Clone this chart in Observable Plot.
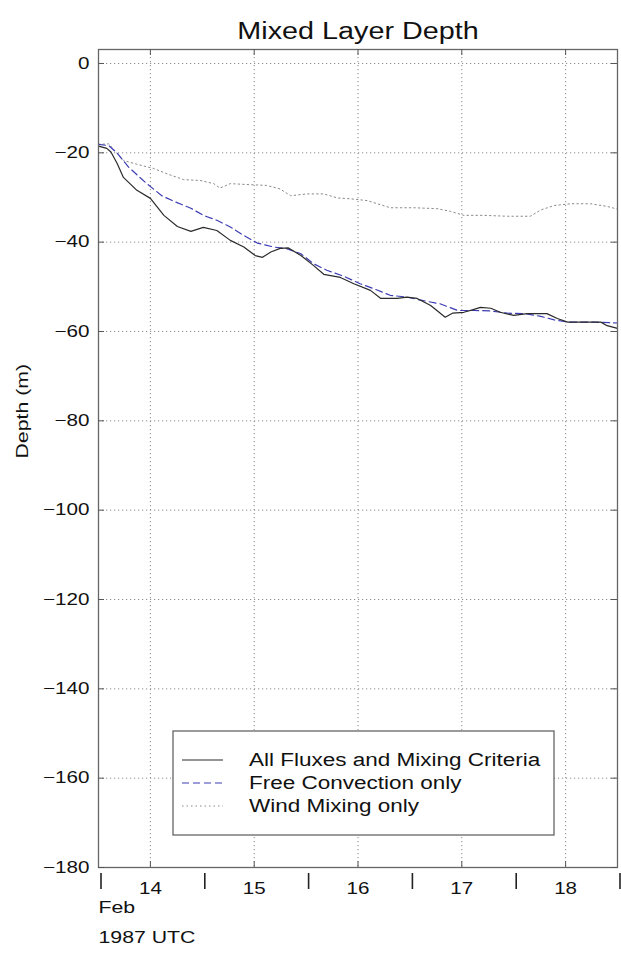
<!DOCTYPE html>
<html>
<head>
<meta charset="utf-8">
<script src="https://cdn.jsdelivr.net/npm/d3@7"></script>
<script src="https://cdn.jsdelivr.net/npm/@observablehq/plot@0.6"></script>
<style>
  body { margin: 0; background: #fff; }
  svg { display: block; }
</style>
</head>
<body>
<div id="chart"></div>
<script>
// Mixed layer depth (m) against time (days of February 1987, UTC)
const seriesNames = ["All Fluxes and Mixing Criteria", "Free Convection only", "Wind Mixing only"];

// All fluxes and mixing criteria
const allT = [13.50, 13.58, 13.62, 13.68, 13.74, 13.87, 14.00, 14.13, 14.26, 14.39, 14.51, 14.64, 14.77, 14.90,
  15.01, 15.08, 15.16, 15.25, 15.33, 15.45, 15.57, 15.67, 15.83, 15.96, 16.12, 16.22, 16.38, 16.47, 16.57,
  16.70, 16.76, 16.84, 16.91, 17.02, 17.11, 17.18, 17.28, 17.37, 17.50, 17.63, 17.82, 17.92, 18.02, 18.34, 18.40, 18.50];
const allDepth = [-18.5, -19.0, -19.8, -22.4, -25.5, -28.4, -30.2, -34.0, -36.5, -37.6, -36.7, -37.4, -39.6, -41.1,
  -43.0, -43.4, -42.2, -41.4, -41.3, -43.0, -45.2, -47.2, -47.9, -49.3, -50.8, -52.6, -52.6, -52.3, -52.6,
  -54.2, -55.3, -56.8, -55.9, -55.7, -55.1, -54.6, -54.8, -55.7, -56.4, -56.0, -56.0, -57.1, -57.9, -57.9, -58.7, -59.3];

// Free convection only
const freeT = [13.50, 13.60, 13.68, 13.79, 13.95, 14.11, 14.24, 14.39, 14.51, 14.64, 14.77, 14.90, 15.03, 15.19,
  15.32, 15.45, 15.57, 15.70, 15.86, 16.02, 16.15, 16.31, 16.47, 16.63, 16.79, 16.96, 17.12, 17.28, 17.44,
  17.60, 17.76, 17.89, 18.02, 18.27, 18.50];
const freeDepth = [-18.1, -18.4, -20.1, -23.2, -26.6, -29.6, -31.0, -32.4, -34.0, -35.1, -36.6, -38.5, -40.2, -41.1,
  -41.5, -42.6, -44.8, -46.3, -47.6, -49.3, -50.4, -51.9, -52.3, -53.1, -53.8, -55.3, -55.3, -55.4, -55.9,
  -56.0, -56.6, -57.4, -57.9, -57.9, -58.1];

// Wind mixing only
const windT = [13.50, 13.60, 13.74, 13.86, 14.03, 14.16, 14.32, 14.48, 14.61, 14.67, 14.77, 14.93, 15.12, 15.25,
  15.35, 15.51, 15.67, 15.80, 15.93, 16.09, 16.31, 16.54, 16.76, 16.89, 17.02, 17.21, 17.44, 17.66, 17.76,
  17.89, 18.05, 18.24, 18.40, 18.50];
const windDepth = [-18.1, -18.0, -21.7, -22.5, -23.5, -24.7, -26.0, -26.2, -26.9, -27.9, -26.9, -27.1, -27.3, -28.1,
  -29.6, -29.2, -29.2, -30.1, -30.3, -30.7, -32.3, -32.3, -32.5, -33.1, -34.0, -34.0, -34.2, -34.2, -32.8,
  -31.8, -31.4, -31.4, -32.0, -32.6];

// Axis ticks
const yTicks = [0, -20, -40, -60, -80, -100, -120, -140, -160, -180];
const dayTicks = [14, 15, 16, 17, 18];
const halfDayMarks = [13.5, 14.5, 15.5, 16.5, 17.5, 18.5];
const titleText = "Mixed Layer Depth";
const yLabel = "Depth (m)";
const monthLabel = "Feb";
const yearLabel = "1987 UTC";

const rows = (ts, ds) => ts.map((t, i) => ({t, d: ds[i]}));
const allRows = rows(allT, allDepth);
const freeRows = rows(freeT, freeDepth);
const windRows = rows(windT, windDepth);

const FONT = "'Liberation Sans', Arial, Helvetica, sans-serif";
const W = 621, H = 955;
const mt = 49, mb = 88, ml = 98, mr = 4;
const fw = W - ml - mr, fh = H - mt - mb;

const styles = {
  all: {stroke: "#2b2b2b", strokeWidth: 1.2},
  free: {stroke: "#3d3db4", strokeWidth: 1.2, strokeDasharray: "7,4"},
  wind: {stroke: "#8a8a8a", strokeWidth: 1, strokeDasharray: "1.5,3"}
};
const gridStyle = {stroke: "#8c8c8c", strokeOpacity: 1, strokeWidth: 1, strokeDasharray: "1.2,2.8"};

const chart = Plot.plot({
  width: W,
  height: H,
  marginTop: mt,
  marginBottom: mb,
  marginLeft: ml,
  marginRight: mr,
  style: {fontFamily: FONT, fontSize: "16.5px", color: "#111", background: "#fff"},
  x: {domain: [13.5, 18.5]},
  y: {domain: [-180, 3.13]},
  marks: [
    Plot.gridY(yTicks, gridStyle),
    Plot.gridX(dayTicks, gridStyle),
    Plot.line(windRows, {x: "t", y: "d", ...styles.wind}),
    Plot.line(freeRows, {x: "t", y: "d", ...styles.free}),
    Plot.line(allRows, {x: "t", y: "d", ...styles.all}),
    Plot.frame({stroke: "#666", strokeWidth: 1.3}),
    // inward ticks on all four sides
    Plot.tickY(yTicks, {y: d => d, insetRight: fw - 6, stroke: "#555"}),
    Plot.tickY(yTicks, {y: d => d, insetLeft: fw - 6, stroke: "#555"}),
    Plot.tickX(dayTicks, {x: d => d, insetTop: fh - 6, stroke: "#555"}),
    Plot.tickX(dayTicks, {x: d => d, insetBottom: fh - 6, stroke: "#555"}),
    // half-day markers hanging below the time axis
    Plot.tickX(halfDayMarks, {x: d => d, insetTop: fh + 6, insetBottom: -22, dx: 2.5, stroke: "#222", strokeWidth: 1.6}),
    Plot.axisY(yTicks, {tickSize: 0, tickPadding: 9, label: null, fontSize: 16.5, fill: "#111"}),
    Plot.axisX(dayTicks, {tickSize: 0, tickPadding: 15, label: null, fontSize: 16.5, fill: "#111", tickFormat: d => String(d)}),
    Plot.text([titleText], {frameAnchor: "top", dy: -27, fontSize: 23, fill: "#111"}),
    Plot.text([yLabel], {frameAnchor: "left", dx: -76, rotate: -90, fontSize: 17, fill: "#111"}),
    Plot.text([monthLabel], {frameAnchor: "bottom-left", dy: 45, textAnchor: "start", fontSize: 17, fill: "#111"}),
    Plot.text([yearLabel], {frameAnchor: "bottom-left", dy: 75, textAnchor: "start", fontSize: 17, fill: "#111"})
  ]
});

document.getElementById("chart").appendChild(chart);

// Legend box inside the frame, lower part
const svg = d3.select(chart);
const lg = svg.append("g")
  .attr("font-family", FONT).attr("font-size", 18).attr("fill", "#111")
  .attr("text-anchor", "start");
const box = {x: ml + 75, y: mt + 682, w: fw - 75 - 63, h: 104};
lg.append("rect")
  .attr("x", box.x).attr("y", box.y).attr("width", box.w).attr("height", box.h)
  .attr("fill", "#fff").attr("stroke", "#666").attr("stroke-width", 1.3);
const legendStyles = [styles.all, styles.free, styles.wind];
seriesNames.forEach((name, i) => {
  const cy = box.y + 29 + i * 23;
  const s = legendStyles[i];
  lg.append("line")
    .attr("x1", box.x + 9).attr("x2", box.x + 50).attr("y1", cy).attr("y2", cy)
    .attr("stroke", s.stroke).attr("stroke-width", s.strokeWidth)
    .attr("stroke-dasharray", s.strokeDasharray || null);
  lg.append("text")
    .attr("x", box.x + 76).attr("y", cy + 6)
    .attr("text-anchor", "start")
    .text(name);
});

// Widen the lettering horizontally, as in the printed figure
const K = 1.25;
chart.querySelectorAll("text").forEach(t => {
  const len = t.getComputedTextLength();
  if (len > 0) {
    t.setAttribute("textLength", (len * K).toFixed(1));
    t.setAttribute("lengthAdjust", "spacingAndGlyphs");
  }
});
</script>
</body>
</html>
